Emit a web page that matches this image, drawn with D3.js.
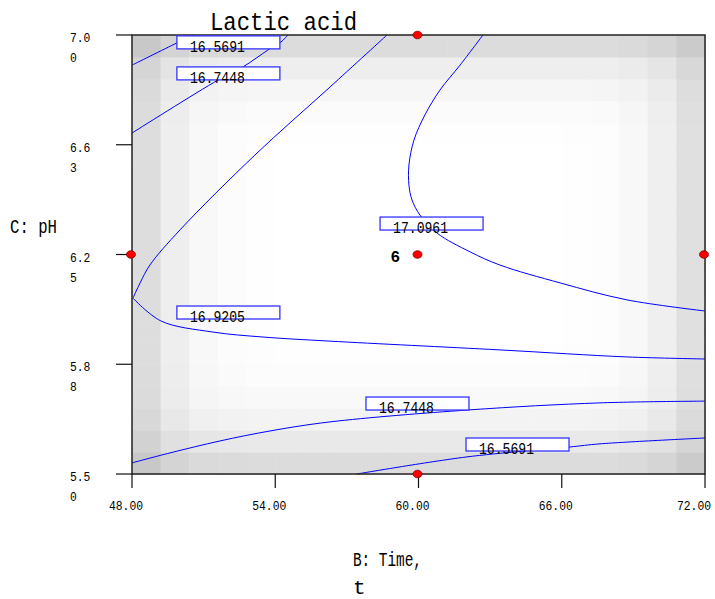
<!DOCTYPE html>
<html>
<head>
<meta charset="utf-8">
<title>Lactic acid</title>
<script src="https://d3js.org/d3.v7.min.js"></script>
<style>
  body { margin: 0; background: #fff; }
  text { font-family: "Liberation Mono", "DejaVu Sans Mono", monospace; fill: #000; }
</style>
</head>
<body>
<script>
// axis ticks
var timeTicks = [48, 54, 60, 66, 72];
var phTicks = [5.50, 5.875, 6.25, 6.625, 7.00];
var phTickLabels = [["5.5", "0"], ["5.8", "8"], ["6.2", "5"], ["6.6", "3"], ["7.0", "0"]];

// shading of the background grid (darkness per column / per row, 20 x 20 cells)
var colShade = [34, 17, 7, 3, 1, 0, 0, 0, 0, 0, 0, 0, 0, 0, 0, 1, 2, 7, 16, 31];
var rowShade = [35, 22, 12, 6, 3, 1, 0, 0, 0, 0, 0, 0, 0, 0, 0, 1, 4, 9, 17, 35]; // bottom -> top

// contour lines, points as [time, pH]
var contour16_5691a = [[48.00, 6.897], [49.88, 6.973], [50.56, 7.000]];
var contour16_7448a = [[48.00, 6.665], [51.60, 6.846], [52.65, 6.891], [53.70, 6.949], [54.24, 6.976], [54.53, 7.000]];
// 16.9205 bends sharply near the left edge, so it is kept as two pieces
var contour16_9205a = [[58.68, 7.000], [56.29, 6.822], [53.15, 6.590], [50.01, 6.334], [48.75, 6.214], [48.34, 6.153],
                       [48.04, 6.101]];
var contour16_9205b = [[48.04, 6.101], [49.21, 6.023], [51.39, 5.985], [53.49, 5.968], [56.29, 5.954], [63.41, 5.924],
                       [68.73, 5.900], [72.00, 5.893]];
var contour17_0961 = [[62.70, 7.000], [61.74, 6.897], [60.90, 6.812], [60.27, 6.727], [59.81, 6.641], [59.60, 6.556],
                      [59.60, 6.487], [59.73, 6.436], [60.06, 6.385], [60.78, 6.323], [62.16, 6.259], [63.41, 6.214],
                      [65.93, 6.153], [68.73, 6.095], [72.00, 6.057]];
var contour16_7448b = [[48.00, 5.538], [49.59, 5.572], [51.69, 5.613], [53.78, 5.647], [56.29, 5.678], [62.12, 5.719],
                       [67.60, 5.743], [72.00, 5.749]];
var contour16_5691b = [[57.42, 5.500], [61.99, 5.558], [66.30, 5.592], [67.60, 5.603], [72.00, 5.623]];
var contours = [contour16_5691a, contour16_7448a, contour16_9205a, contour16_9205b, contour17_0961,
                contour16_7448b, contour16_5691b];

// contour labels: value and the box corner [time, pH]
var labelValues = ["16.5691", "16.7448", "17.0961", "16.9205", "16.7448", "16.5691"];
var labelSpots = [[49.88, 6.997], [49.88, 6.891], [58.39, 6.378], [49.88, 6.074], [57.80, 5.763], [61.99, 5.623]];

// design points
var designPoints = [[60, 7.0], [48, 6.25], [60, 6.25], [72, 6.25], [60, 5.5]];
var designCounts = [null, null, 6, null, null];

var width = 715, height = 599;
var margin = {left: 132, right: 10, top: 35, bottom: 125};

var svg = d3.select("body").append("svg")
    .attr("width", width)
    .attr("height", height);

var x = d3.scaleLinear().domain([48, 72]).range([margin.left, width - margin.right]);
var y = d3.scaleLinear().domain([5.5, 7.0]).range([height - margin.bottom, margin.top]);

// background grid
var nx = colShade.length, ny = rowShade.length;
var cw = (x(72) - x(48)) / nx, ch = (y(5.5) - y(7.0)) / ny;
var cells = [];
colShade.forEach(function(cs, i) {
  rowShade.forEach(function(rs, j) {
    var d = Math.pow(Math.pow(cs, 1.5) + Math.pow(rs, 1.5), 2 / 3);
    cells.push({i: i, j: j, v: Math.round(255 - d)});
  });
});
svg.append("g").selectAll("rect")
  .data(cells)
  .enter().append("rect")
  .attr("x", function(d) { return x(48) + d.i * cw; })
  .attr("y", function(d) { return y(5.5) - (d.j + 1) * ch; })
  .attr("width", cw + 0.5)
  .attr("height", ch + 0.5)
  .attr("fill", function(d) { return "rgb(" + d.v + "," + d.v + "," + d.v + ")"; });

// contours
var line = d3.line()
  .curve(d3.curveCatmullRom.alpha(0.5))
  .x(function(d) { return x(d[0]); })
  .y(function(d) { return y(d[1]); });

svg.append("g").selectAll("path")
  .data(contours)
  .enter().append("path")
  .attr("d", line)
  .attr("fill", "none")
  .attr("stroke", "#0000ff")
  .attr("stroke-width", 1);

// frame
svg.append("rect")
  .attr("x", x(48)).attr("y", y(7.0))
  .attr("width", x(72) - x(48)).attr("height", y(5.5) - y(7.0))
  .attr("fill", "none").attr("stroke", "#222").attr("stroke-width", 1.5);

// y axis
var yAxis = svg.append("g");
yAxis.selectAll("line")
  .data(phTicks)
  .enter().append("line")
  .attr("x1", x(48) - 16).attr("x2", x(48))
  .attr("y1", function(d) { return y(d); }).attr("y2", function(d) { return y(d); })
  .attr("stroke", "#111").attr("stroke-width", 1.2);
phTicks.forEach(function(t, i) {
  phTickLabels[i].forEach(function(s, k) {
    yAxis.append("text")
      .attr("x", 70)
      .attr("y", y(t) + 7 + k * 20)
      .attr("font-size", 13)
      .attr("textLength", s.length * 6.8)
      .attr("lengthAdjust", "spacingAndGlyphs")
      .text(s);
  });
});

// x axis
var xAxis = svg.append("g");
xAxis.selectAll("line")
  .data(timeTicks)
  .enter().append("line")
  .attr("x1", function(d) { return x(d); }).attr("x2", function(d) { return x(d); })
  .attr("y1", y(5.5)).attr("y2", y(5.5) + 14)
  .attr("stroke", "#111").attr("stroke-width", 1.2);
xAxis.selectAll("text")
  .data(timeTicks)
  .enter().append("text")
  .attr("x", function(d) { return Math.min(x(d) - 6, 694); })
  .attr("y", 510)
  .attr("text-anchor", "middle")
  .attr("font-size", 13)
  .attr("textLength", 34)
  .attr("lengthAdjust", "spacingAndGlyphs")
  .text(function(d) { return d3.format(".2f")(d); });

// contour labels
var labels = svg.append("g").selectAll("g")
  .data(labelValues)
  .enter().append("g")
  .attr("transform", function(d, i) {
    return "translate(" + x(labelSpots[i][0]) + "," + y(labelSpots[i][1]) + ")";
  });
labels.append("rect")
  .attr("width", 103).attr("height", 13)
  .attr("fill", "#fff")
  .attr("stroke", "#3333ff").attr("stroke-width", 1.3);
labels.append("text")
  .attr("x", 13).attr("y", 16)
  .attr("font-size", 16)
  .attr("textLength", 55)
  .attr("lengthAdjust", "spacingAndGlyphs")
  .text(function(d) { return d; });

// design points
svg.append("g").selectAll("ellipse")
  .data(designPoints)
  .enter().append("ellipse")
  .attr("cx", function(d) { return x(d[0]) - 1; })
  .attr("cy", function(d) { return y(d[1]); })
  .attr("rx", 4.5).attr("ry", 3.8)
  .attr("fill", "#ff0000")
  .attr("stroke", "#880000").attr("stroke-width", 0.8);
svg.append("g").selectAll("text")
  .data(designPoints.filter(function(d, i) { return designCounts[i]; }))
  .enter().append("text")
  .attr("x", function(d) { return x(d[0]) - 28; })
  .attr("y", function(d) { return y(d[1]) + 7; })
  .attr("font-family", "DejaVu Sans, sans-serif")
  .attr("font-weight", "bold")
  .attr("font-size", 16)
  .text(function(d) { return designCounts[designPoints.indexOf(d)]; });

// titles
svg.append("text")
  .attr("x", 210).attr("y", 30)
  .attr("font-size", 26)
  .attr("textLength", 147)
  .attr("lengthAdjust", "spacingAndGlyphs")
  .text("Lactic acid");

svg.append("text")
  .attr("x", 10).attr("y", 233)
  .attr("font-size", 21)
  .attr("textLength", 47)
  .attr("lengthAdjust", "spacingAndGlyphs")
  .text("C: pH");

svg.append("text")
  .attr("x", 353).attr("y", 566)
  .attr("font-size", 21)
  .attr("textLength", 69)
  .attr("lengthAdjust", "spacingAndGlyphs")
  .text("B: Time,");
svg.append("text")
  .attr("x", 353).attr("y", 594)
  .attr("font-size", 21)
  .text("t");
</script>
</body>
</html>
